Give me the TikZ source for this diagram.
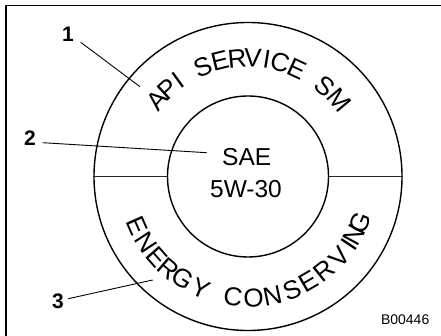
\documentclass[tikz,border=0pt]{standalone}
\usepackage{fontspec}
\setmainfont{Liberation Sans}
\begin{document}
\begin{tikzpicture}[x=1pt,y=1pt,
  ring/.style={circle,draw,line width=1.4pt,inner sep=0pt},
  divider/.style={line width=0.8pt,draw=black!85},
  leader/.style={line width=0.9pt},
  callout/.style={font=\fontsize{21}{21}\selectfont\bfseries,inner sep=0pt},
  arcletter/.style={font=\fontsize{26}{26}\selectfont,inner sep=0pt,anchor=base},
  centertext/.style={font=\fontsize{24.5}{24.5}\selectfont,inner sep=0pt,anchor=base},
  frameline/.style={line width=1.5pt}]
\useasboundingbox (0,0) rectangle (441,336);
% frame (top and left edges visible)
\coordinate (fbl) at (6,0);
\coordinate (ftl) at (6,330.3);
\coordinate (ftr) at (441,330.3);
\draw[frameline] (fbl) -- (ftl) -- (ftr);
% circles
\coordinate (O) at (248,159.5);
\node[ring,minimum size=308pt] (outer) at (O) {};
\node[ring,minimum size=161pt] (inner) at (O) {};
\draw[divider] (outer.west) -- (inner.west);
\draw[divider] (inner.east) -- (outer.east);
% center text
\node[centertext] (sae) at (246.7,170) {SAE};
\node[centertext] (grade) at (246,138.7) {5W-30};
% upper arc text
\foreach \ch/\ang [count=\i] in {A/140,P/132.5,I/125.9,S/112.3,E/103.7,R/95.3,V/87.6,I/80.8,C/74.3,E/65.3,S/49.8,M/39.8}
  \node[arcletter,rotate=\ang-90] (up\i) at ([shift={(\ang:109.7pt)}]O) {\ch};
% lower arc text
\foreach \ch/\ang [count=\i] in {E/203.9,N/213.1,E/221.4,R/229.3,G/237.5,Y/247,C/262.9,O/272.6,N/281.6,S/291.2,E/300,R/308.8,V/318.6,I/326,N/331.4,G/337.7}
  \node[arcletter,rotate=\ang+90] (lo\i) at ([shift={(\ang:130.3pt)}]O) {\ch};
% callouts
\node[callout] (l1) at (68,302) {1};
\node[callout] (l2) at (30,197.7) {2};
\node[callout] (l3) at (58,34.3) {3};
\coordinate (e1) at (140,249.3);
\coordinate (e2) at (206.7,183.3);
\coordinate (e3) at (152.7,56);
\draw[leader] (80.7,293.7) coordinate (s1) -- (e1);
\draw[leader] (42.7,193.3) coordinate (s2) -- (e2);
\draw[leader] (68.3,37.3) coordinate (s3) -- (e3);
% figure id
\node[font=\fontsize{14}{14}\selectfont,inner sep=0pt,anchor=base east] (fig) at (429.5,11.7) {B00446};
\end{tikzpicture}
\end{document}
